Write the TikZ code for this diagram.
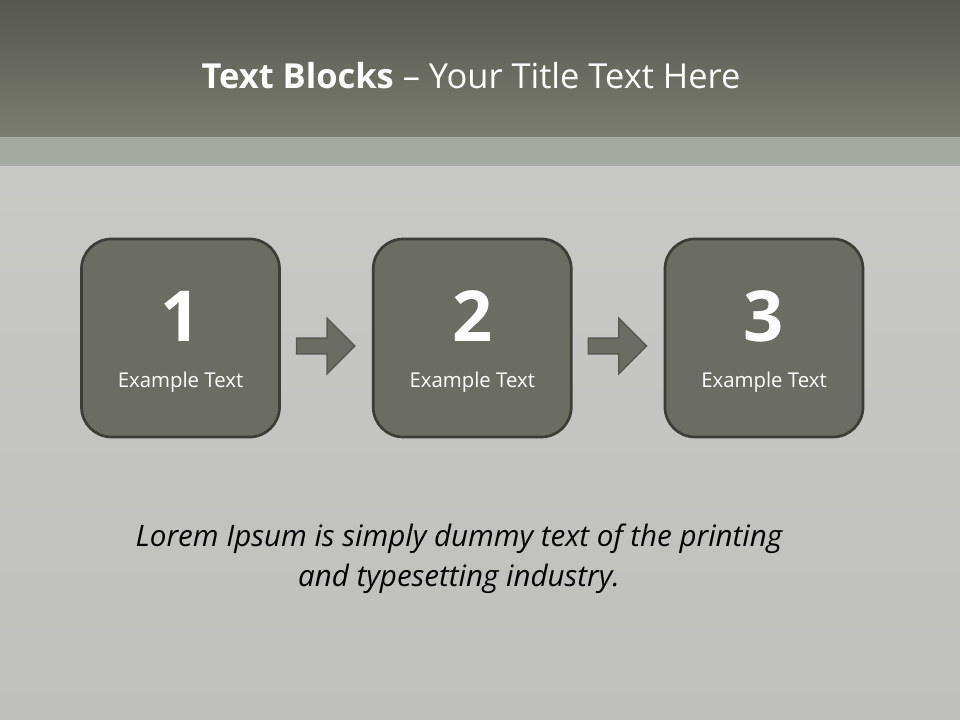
\documentclass[tikz,border=0pt]{standalone}
\usepackage{fontspec}
\setmainfont{Open Sans}
\usepackage{tikz}
\usetikzlibrary{arrows.meta,positioning,calc,shapes.arrows}
\definecolor{headtop}{HTML}{56584E}
\definecolor{headbot}{HTML}{7B7D70}
\definecolor{bandfill}{HTML}{A6A8A2}
\definecolor{bgtop}{HTML}{CBCCC9}
\definecolor{bgbot}{HTML}{BFC0BC}
\definecolor{boxfill}{HTML}{6B6C62}
\definecolor{boxline}{HTML}{3C3D36}

\begin{document}
\begin{tikzpicture}[
  x=0.025cm, y=-0.025cm,
  stepbox/.style={draw=boxline, line width=1.9pt, rounded corners=0.75cm, minimum size=4.95cm, fill=boxfill},
  num/.style={text=white, font=\fontsize{50}{60}\selectfont\bfseries},
  lbl/.style={text=white, font=\fontsize{14.5}{17}\selectfont},
  blockarr/.style={single arrow, draw=boxline!85, line width=1.1pt, fill=boxfill, minimum height=1.45cm, inner xsep=0pt, inner ysep=0.18cm, single arrow head extend=0.49cm, single arrow head indent=0pt, yshift=-0.2cm}
]
  % background
  \shade[top color=bgtop, bottom color=bgbot] (0,0) rectangle (960,720);
  \shade[top color=headtop, bottom color=headbot] (0,0) rectangle (960,137);
  \fill[bandfill] (0,137) rectangle (960,166);
  \useasboundingbox (0,0) rectangle (960,720);

  \node[text=white, font=\fontsize{24.5}{29}\selectfont] (title) at (471,76) {\textbf{Text Blocks} -- Your Title Text Here};

  \node[stepbox] (b1) at (180.5,338) {};
  \node[stepbox, right=2.275cm of b1] (b2) {};
  \node[stepbox, right=2.275cm of b2] (b3) {};

  \node[blockarr, right=0.375cm of b1] (a1) {};
  \node[blockarr, right=0.375cm of b2] (a2) {};

  \foreach \i in {1,2,3} {
    \node[num] (n\i) at ($(b\i.center)+(0,-22)$) {\i};
    \node[lbl] (t\i) at ($(b\i.center)+(0,44)$) {Example Text};
  }

  \node[align=center, font=\fontsize{21}{28.5}\selectfont\itshape] (lorem) at (459,559)
    {Lorem Ipsum is simply dummy text of the printing\\and typesetting industry.};
\end{tikzpicture}
\end{document}
